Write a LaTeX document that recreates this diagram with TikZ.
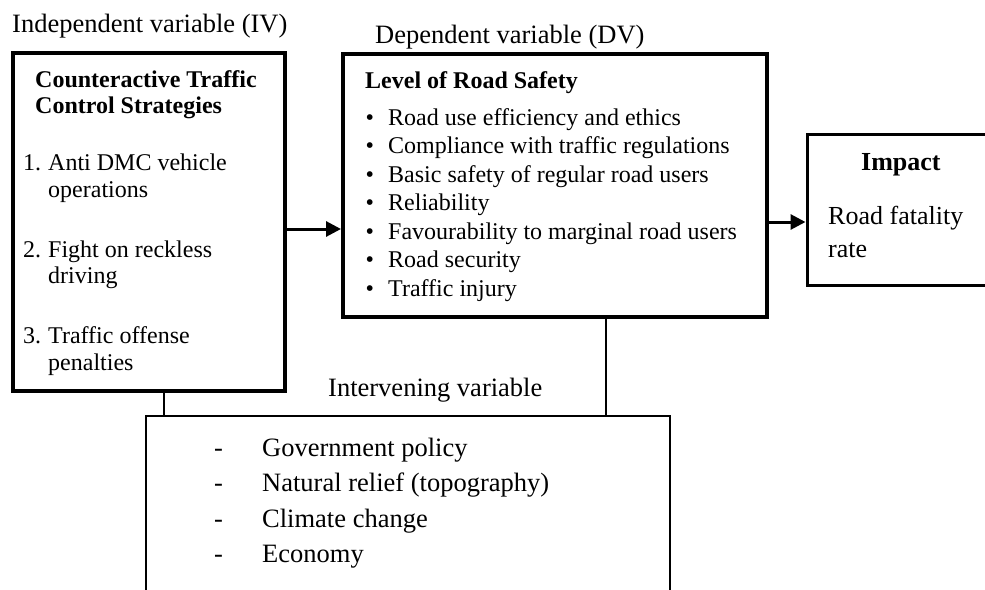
\documentclass[tikz,border=0pt]{standalone}
\usepackage{fontspec}
\setmainfont{Liberation Serif}
\usetikzlibrary{arrows.meta}
\begin{document}
\begin{tikzpicture}[x=1pt,y=-1pt,
  boxA/.style={draw,line width=4pt,inner sep=0pt},
  boxB/.style={draw,line width=3pt,inner sep=0pt},
  boxC/.style={draw,line width=2.4pt,inner sep=0pt},
  arr/.style={line width=3pt,-{Triangle[length=15pt,width=15pt]}},
  conn/.style={line width=2.6pt},
  tb/.style={inner sep=0pt,anchor=base west,font=\fontsize{24}{28}\selectfont},
  tl/.style={inner sep=0pt,anchor=base west,font=\fontsize{26.5}{31}\selectfont},
  ti/.style={inner sep=0pt,anchor=base west,font=\fontsize{26}{31}\selectfont},
  tv/.style={inner sep=0pt,anchor=base west,font=\fontsize{26.5}{31}\selectfont}]
\useasboundingbox (0,0) rectangle (985,589);
\clip (0,0) rectangle (985,589);
\fill[white] (0,0) rectangle (985,589);

% boxes
\node[boxA, minimum width=272pt, minimum height=338pt] (iv) at (149,222) {};
\node[boxA, minimum width=424pt, minimum height=263pt] (dv) at (555,185.5) {};
\node[boxB, minimum width=193pt, minimum height=151pt] (imp) at (903.5,209.5) {};
\node[boxC, minimum width=524pt, minimum height=204pt] (bot) at (408,518) {};

% labels
\node[tl] (livl) at (12,32) {Independent variable (IV)};
\node[tl] (ldvl) at (375,43) {Dependent variable (DV)};
\node[tl] (lint) at (328,396) {Intervening variable};

% IV box text
\node[tb,font=\fontsize{24}{28}\selectfont\bfseries] (ivt1) at (35,87) {Counteractive Traffic};
\node[tb,font=\fontsize{24}{28}\selectfont\bfseries] (ivt2) at (35,113) {Control Strategies};
\node[tb] (n1) at (23,170) {1.};
\node[tb] (i1a) at (48,170) {Anti DMC vehicle};
\node[tb] (i1b) at (48,197) {operations};
\node[tb] (n2) at (23,257) {2.};
\node[tb] (i2a) at (48,257) {Fight on reckless};
\node[tb] (i2b) at (48,283) {driving};
\node[tb] (n3) at (23,343) {3.};
\node[tb] (i3a) at (48,343) {Traffic offense};
\node[tb] (i3b) at (48,370) {penalties};

% DV box text
\node[tb,font=\fontsize{24}{28}\selectfont\bfseries] (dvt) at (365,88) {Level of Road Safety};
\foreach \y/\t [count=\k] in {125/Road use efficiency and ethics,
  153.5/Compliance with traffic regulations,
  182/Basic safety of regular road users,
  210.5/Reliability,
  239/Favourability to marginal road users,
  267.5/Road security,
  296/Traffic injury}{
  \node[tb] (b\k) at (365.5,\y) {•};
  \node[tb] (d\k) at (388,\y) {\t};
}

% Impact box text
\node[ti,font=\fontsize{26}{31}\selectfont\bfseries] (impt) at (861,170) {Impact};
\node[ti] (imp1) at (828,224) {Road fatality};
\node[ti] (imp2) at (828,257) {rate};

% intervening items
\foreach \y/\t [count=\k] in {456/Government policy,
  491.5/Natural relief (topography),
  527/Climate change,
  562.5/Economy}{
  \node[tv] (h\k) at (214,\y) {-};
  \node[tv] (e\k) at (262,\y) {\t};
}

% connectors
\coordinate (a1) at (300,229);
\coordinate (a2) at (780,222);
\coordinate (c1) at (164,400);
\coordinate (c2) at (606,400);
\draw[arr] (iv.east |- a1) -- (dv.west |- a1);
\draw[arr] (dv.east |- a2) -- (imp.west |- a2);
\draw[conn] (iv.south -| c1) -- (bot.north -| c1);
\draw[conn] (dv.south -| c2) -- (bot.north -| c2);
\end{tikzpicture}
\end{document}
